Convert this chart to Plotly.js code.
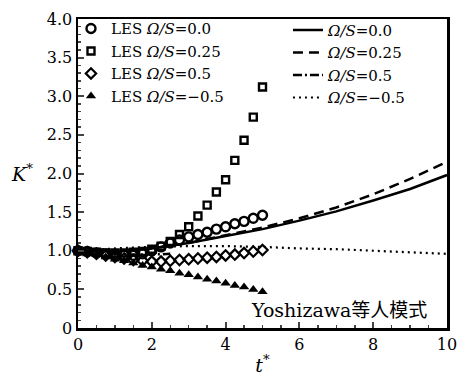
<!DOCTYPE html>
<html>
<head>
<meta charset="utf-8">
<script src="https://cdn.plot.ly/plotly-3.0.1.min.js"></script>
<style>html,body{margin:0;padding:0;background:#fff;}</style>
</head>
<body>
<div id="chart" style="width:466px;height:376px;"></div>
<script>
// LES sample times
const tLES = [0,0.25,0.5,0.75,1.0,1.25,1.5,1.75,2.0,2.25,2.5,2.75,3.0,3.25,3.5,3.75,4.0,4.25,4.5,4.75,5.0];
const lesOmega0   = [1.00,0.99,0.97,0.96,0.95,0.94,0.94,0.96,1.00,1.05,1.10,1.14,1.18,1.21,1.24,1.28,1.31,1.35,1.38,1.42,1.46];
const lesOmega025 = [1.00,0.99,0.98,0.97,0.97,0.97,0.98,0.99,1.02,1.06,1.12,1.21,1.31,1.45,1.59,1.76,1.92,2.17,2.43,2.73,3.12];
const lesOmega05  = [1.00,0.98,0.96,0.94,0.92,0.90,0.88,0.87,0.86,0.86,0.87,0.88,0.89,0.90,0.91,0.92,0.94,0.95,0.97,0.99,1.01];
const lesOmegaM05 = [1.00,0.97,0.95,0.92,0.89,0.87,0.84,0.81,0.79,0.76,0.74,0.71,0.69,0.66,0.63,0.61,0.58,0.55,0.53,0.50,0.47];

// Model (Yoshizawa et al.) curves
const tModel = [0,1,2,3,4,5,6,7,8,9,10];
const modelOmega0   = [1.00,0.99,1.03,1.10,1.19,1.28,1.39,1.51,1.65,1.80,1.98];
const modelOmega025 = [1.00,0.99,1.03,1.10,1.20,1.30,1.42,1.56,1.73,1.93,2.15];
const tModel05 = [0,0.5,1.0,1.5,2.0,2.5];
const modelOmega05  = [1.00,0.98,0.96,0.95,0.95,0.96];
const modelOmegaM05 = [1.00,1.03,1.05,1.06,1.06,1.05,1.03,1.02,1.00,0.98,0.96];

const xTicks = [0,2,4,6,8,10];
const yTicks = [0,0.5,1.0,1.5,2.0,2.5,3.0,3.5,4.0];
const yTickText = ["0","0.5","1.0","1.5","2.0","2.5","3.0","3.5","4.0"];

const lesNames = ["LES <i>Ω/S</i>=0.0","LES <i>Ω/S</i>=0.25","LES <i>Ω/S</i>=0.5","LES <i>Ω/S</i>=−0.5"];
const modelNames = ["<i>Ω/S</i>=0.0","<i>Ω/S</i>=0.25","<i>Ω/S</i>=0.5","<i>Ω/S</i>=−0.5"];
const annText = "Yoshizawa等人模式";

const FONT = "DejaVu Serif, Liberation Serif, Noto Sans CJK SC, serif";

const lineTraces = [
  {x:tModel, y:modelOmega0, name:modelNames[0], mode:'lines', legend:'legend2',
   line:{color:'#000', width:2.5}},
  {x:tModel, y:modelOmega025, name:modelNames[1], mode:'lines', legend:'legend2',
   line:{color:'#000', width:2.5, dash:'10px,6px'}},
  {x:tModel05, y:modelOmega05, name:modelNames[2], mode:'lines', legend:'legend2',
   line:{color:'#000', width:2.5, dash:'9px,3px,2px,3px'}},
  {x:tModel, y:modelOmegaM05, name:modelNames[3], mode:'lines', legend:'legend2',
   line:{color:'#000', width:2.2, dash:'2px,4px'}}
];
const markerTraces = [
  {x:tLES, y:lesOmega0, name:lesNames[0], mode:'markers', legend:'legend',
   marker:{symbol:'circle-open', size:9, color:'#000', line:{width:2.4, color:'#000'}}},
  {x:tLES, y:lesOmega025, name:lesNames[1], mode:'markers', legend:'legend',
   marker:{symbol:'square-open', size:7, color:'#000', line:{width:2.4, color:'#000'}}},
  {x:tLES, y:lesOmega05, name:lesNames[2], mode:'markers', legend:'legend',
   marker:{symbol:'diamond-open', size:8, color:'#000', line:{width:2.2, color:'#000'}}},
  {x:tLES, y:lesOmegaM05, name:lesNames[3], mode:'markers', legend:'legend',
   marker:{symbol:'triangle-up', size:9, color:'#000', line:{width:0}}}
];
const data = markerTraces.concat(lineTraces).map(t => Object.assign({cliponaxis:false}, t));

const layout = {
  width:466, height:376,
  margin:{l:78, r:19, t:13, b:48},
  paper_bgcolor:'#fff', plot_bgcolor:'#fff',
  font:{family:FONT, size:16, color:'#000'},
  showlegend:true,
  xaxis:{
    range:[0,10], tickvals:xTicks, ticks:'inside', ticklen:6, tickwidth:2,
    showline:true, linewidth:2.5, linecolor:'#000', mirror:true,
    showgrid:false, zeroline:false, tickfont:{family:FONT, size:16},
    minor:{dtick:0.5, ticks:'inside', ticklen:3, tickwidth:1.5, showgrid:false},
    title:{text:'<i>t</i><sup>*</sup>', font:{family:FONT, size:19}, standoff:6}
  },
  yaxis:{
    range:[0,4], tickvals:yTicks, ticktext:yTickText, ticks:'inside', ticklen:6, tickwidth:2,
    showline:true, linewidth:2.5, linecolor:'#000', mirror:true,
    showgrid:false, zeroline:false, tickfont:{family:FONT, size:16},
    minor:{dtick:0.1, ticks:'inside', ticklen:3, tickwidth:1.5, showgrid:false}
  },
  legend:{x:-0.019, y:1.022, xanchor:'left', yanchor:'top', bgcolor:'rgba(0,0,0,0)',
    borderwidth:0, font:{family:FONT, size:15}},
  legend2:{x:0.569, y:1.017, xanchor:'left', yanchor:'top', bgcolor:'rgba(0,0,0,0)',
    borderwidth:0, font:{family:FONT, size:15}},
  annotations:[
    {text:'<i>K</i><sup>*</sup>', xref:'paper', yref:'paper', x:-0.152, y:0.502,
     xanchor:'center', yanchor:'middle', showarrow:false, font:{family:FONT, size:19}},
    {text:annText, xref:'paper', yref:'paper', x:0.463, y:0.057,
     xanchor:'left', yanchor:'middle', showarrow:false, font:{family:FONT, size:19}}
  ]
};

Plotly.newPlot('chart', data, layout, {displayModeBar:false, staticPlot:true});
</script>
</body>
</html>
